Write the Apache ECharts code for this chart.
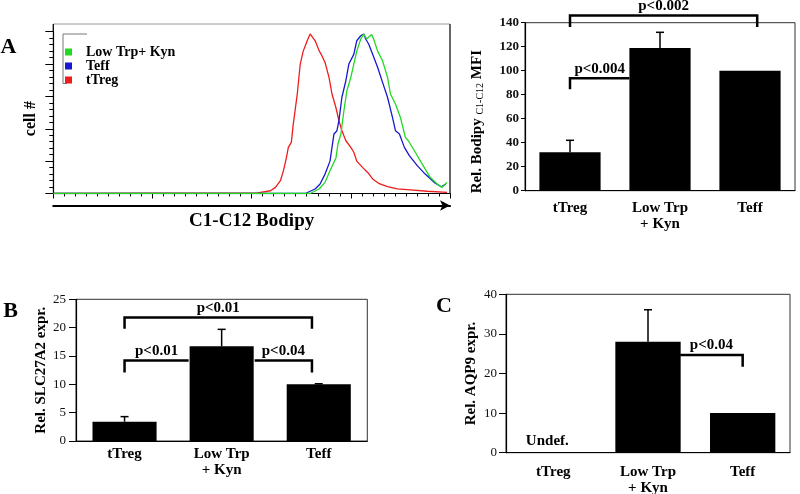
<!DOCTYPE html>
<html><head><meta charset="utf-8">
<script src="https://cdn.jsdelivr.net/npm/echarts@6/dist/echarts.min.js"></script>
<style>html,body{margin:0;padding:0;background:#fff}#c{width:800px;height:494px}</style>
</head><body><div id="c"></div>
<script>
// ---------- Panel A (histogram): x in log decades of C1-C12 Bodipy, y = % of max cell count
var histNames = ['Low Trp+ Kyn', 'Teff', 'tTreg'];
var redDecade = [0, 2.06, 2.19, 2.24, 2.29, 2.32, 2.35, 2.37, 2.40, 2.42, 2.46, 2.49, 2.52, 2.56, 2.59, 2.61, 2.64, 2.68, 2.71, 2.74, 2.78, 2.81, 2.85, 2.88, 2.91, 2.95, 3.00, 3.03, 3.06, 3.12, 3.17, 3.22, 3.28, 3.37, 3.47, 3.60, 3.77, 3.97];
var redCount = [0, 0.4, 1.7, 3.8, 7.9, 14, 22, 28.5, 31.6, 43, 61.5, 80, 88, 94.4, 98.6, 98, 94.4, 88.3, 85, 81, 71.8, 61.5, 53, 45, 38.8, 32.6, 28.5, 25.5, 20, 16, 13, 9, 6.3, 4.2, 2.8, 2.2, 1.4, 0.7];
var blueDecade = [0, 2.54, 2.64, 2.69, 2.74, 2.79, 2.83, 2.86, 2.88, 2.91, 2.95, 2.98, 3.03, 3.06, 3.10, 3.13, 3.15, 3.18, 3.22, 3.27, 3.32, 3.37, 3.42, 3.45, 3.49, 3.54, 3.59, 3.67, 3.75, 3.84, 3.91, 3.96];
var blueCount = [0, 0, 2.8, 5.9, 12, 20, 36.8, 38.8, 45, 59.5, 69.7, 80, 86, 94.4, 97.5, 98.6, 95.5, 92.4, 86, 78, 68.7, 59.5, 47, 38.8, 36.8, 28.5, 23.4, 17.2, 12, 6.9, 4.2, 5.9];
var greenDecade = [0, 2.59, 2.68, 2.74, 2.79, 2.85, 2.87, 2.90, 2.93, 2.96, 3.00, 3.03, 3.06, 3.10, 3.13, 3.16, 3.18, 3.21, 3.23, 3.27, 3.32, 3.37, 3.40, 3.45, 3.50, 3.55, 3.58, 3.60, 3.65, 3.72, 3.80, 3.87, 3.92, 3.97];
var greenCount = [0, 0, 2.8, 6.9, 14, 22, 30.6, 36.8, 51, 63.5, 71.8, 80, 88, 95.5, 98.6, 95.5, 96.5, 98.2, 95.5, 88, 82, 71.8, 61.5, 55.3, 47, 34.7, 32.6, 31.6, 25.5, 18.2, 10, 5.9, 3.8, 6.9];

// ---------- Bar panels
var categories = ['tTreg', 'Low Trp\n+ Kyn', 'Teff'];
var bodipyMean = [32, 119, 100];
var bodipyErr = [10, 13, 0];
var slcMean = [3.4, 16.7, 10.0];
var slcErr = [0.9, 3.0, 0.1];
var aqpMean = [null, 28, 10];
var aqpErr = [null, 8.1, 0];

// significance brackets (value units; edge -1/+1 = left/right edge of a bar)
var bodipyBrackets = [
  {from: 0, to: 2.08, level: 146, dropFrom: 136.5, dropTo: 136.5, text: 'p<0.002'},
  {from: 0, to: 1, toEdge: -1, level: 93.7, dropFrom: 84.5, text: 'p<0.004'}
];
var slcBrackets = [
  {from: 0, to: 1.93, level: 21.8, dropFrom: 19.8, dropTo: 19.8, text: 'p<0.01'},
  {from: 0, to: 1, toEdge: -1, level: 14.2, dropFrom: 12.1, text: 'p<0.01'},
  {from: 1, fromEdge: 1, to: 1.93, level: 14.2, dropTo: 12.1, text: 'p<0.04'}
];
var aqpBrackets = [
  {from: 1, fromEdge: 1, to: 2.0, level: 24.7, dropTo: 21.7, text: 'p<0.04'}
];
var undefText = 'Undef.';

var FONT = "'Liberation Serif','Times New Roman',serif";
var BAR_HALF = 0.34;

function pairs(xs, ys) { return xs.map(function (x, i) { return [x, ys[i]]; }); }

function errorSeries(xi, yi, means, errs) {
  return {
    type: 'custom', xAxisIndex: xi, yAxisIndex: yi, clip: false, z: 5, silent: true,
    data: means.map(function (m, i) { return [i, m == null ? 0 : m, errs[i] == null ? 0 : errs[i]]; }),
    encode: {x: 0, y: 1},
    renderItem: function (params, api) {
      var m = api.value(1), e = api.value(2);
      if (!e) return null;
      var p0 = api.coord([api.value(0), m]), p1 = api.coord([api.value(0), m + e]);
      return {type: 'group', children: [
        {type: 'line', shape: {x1: p0[0], y1: p0[1], x2: p1[0], y2: p1[1]}, style: {stroke: '#000', lineWidth: 1.5}},
        {type: 'line', shape: {x1: p1[0] - 4, y1: p1[1], x2: p1[0] + 4, y2: p1[1]}, style: {stroke: '#000', lineWidth: 1.5}}
      ]};
    }
  };
}

function bracketSeries(xi, yi, list) {
  return {
    type: 'custom', xAxisIndex: xi, yAxisIndex: yi, clip: false, z: 6, silent: true,
    data: list.map(function (b) { return [Math.round(b.from), b.level]; }),
    encode: {x: 0, y: 1},
    renderItem: function (params, api) {
      var b = list[params.dataIndex];
      var bw = api.size([1, 0])[0];
      function X(v, edge) {
        var i = Math.round(v);
        return api.coord([i, b.level])[0] + (v - i) * bw + (edge || 0) * bw * BAR_HALF;
      }
      var y = api.coord([0, b.level])[1];
      var x1 = X(b.from, b.fromEdge), x2 = X(b.to, b.toEdge);
      var pts = [];
      if (b.dropFrom != null) pts.push([x1, api.coord([0, b.dropFrom])[1]]);
      pts.push([x1, y]); pts.push([x2, y]);
      if (b.dropTo != null) pts.push([x2, api.coord([0, b.dropTo])[1]]);
      return {type: 'group', children: [
        {type: 'polyline', shape: {points: pts}, style: {stroke: '#000', lineWidth: 2.5, fill: null}},
        {type: 'text', style: {text: b.text, x: (x1 + x2) / 2, y: y - 2, align: 'center', verticalAlign: 'bottom',
          fontFamily: FONT, fontWeight: 'bold', fontSize: 15, fill: '#000'}}
      ]};
    }
  };
}

function undefSeries(xi, yi, means) {
  var idx = [];
  means.forEach(function (m, i) { if (m == null) idx.push([i, 0]); });
  return {
    type: 'custom', xAxisIndex: xi, yAxisIndex: yi, clip: false, z: 6, silent: true,
    data: idx, encode: {x: 0, y: 1},
    renderItem: function (params, api) {
      var p = api.coord([api.value(0), 0]);
      return {type: 'text', style: {text: undefText, x: p[0] - 6, y: p[1] - 12, align: 'center', verticalAlign: 'middle',
        fontFamily: FONT, fontWeight: 'bold', fontSize: 15, fill: '#000'}};
    }
  };
}

function catAxis(gi, margin) {
  return {
    gridIndex: gi, type: 'category', data: categories,
    axisLine: {show: true, lineStyle: {color: '#000', width: 1.2}},
    axisTick: {show: false}, splitLine: {show: false},
    axisLabel: {show: true, color: '#000', fontFamily: FONT, fontWeight: 'bold', fontSize: 15, lineHeight: 16, margin: margin, interval: 0}
  };
}

function valAxis(gi, max, interval, bold, tickLen, margin, name, nameGap, pad, nameRich) {
  var a = {
    gridIndex: gi, type: 'value', min: 0, max: max, interval: interval,
    axisLine: {show: true, lineStyle: {color: '#000', width: 1.2}},
    axisTick: {show: true, length: tickLen, inside: false, lineStyle: {color: '#000'}},
    splitLine: {show: false},
    axisLabel: {show: true, color: '#111', fontFamily: FONT, fontWeight: bold ? 'bold' : 'normal', fontSize: 13, margin: margin},
    name: name, nameLocation: 'middle', nameRotate: 90, nameGap: nameGap,
    nameTextStyle: {color: '#000', fontFamily: FONT, fontWeight: 'bold', fontSize: 15, padding: pad}
  };
  if (nameRich) a.nameTextStyle.rich = nameRich;
  return a;
}

var lineCommon = {type: 'line', xAxisIndex: 0, yAxisIndex: 0, showSymbol: false, symbol: 'none', smooth: false, silent: true};

var option = {
  animation: false,
  backgroundColor: '#fff',
  grid: [
    {left: 53.3, top: 31.7, width: 396.7, height: 161.8, show: false, outerBoundsMode: 'none'},
    {left: 525, top: 22.7, width: 270, height: 168, show: true, borderColor: '#333', borderWidth: 1, outerBoundsMode: 'none'},
    {left: 76, top: 299.3, width: 291.3, height: 141.7, show: true, borderColor: '#333', borderWidth: 1, outerBoundsMode: 'none'},
    {left: 506, top: 294.3, width: 284, height: 158.4, show: true, borderColor: '#333', borderWidth: 1, outerBoundsMode: 'none'}
  ],
  legend: {
    data: histNames, orient: 'vertical', left: 65, top: 45, padding: 0,
    itemWidth: 7, itemHeight: 7, itemGap: 0, icon: 'rect',
    textStyle: {color: '#000', fontFamily: FONT, fontWeight: 'bold', fontSize: 14, lineHeight: 14, padding: [0, 0, 0, 9]},
    selectedMode: false
  },
  xAxis: [
    {gridIndex: 0, type: 'value', min: 0, max: 4, interval: 1,
      axisLine: {show: true, lineStyle: {color: '#000', width: 1}},
      axisTick: {show: true, length: 5, lineStyle: {color: '#000'}},
      minorTick: {show: true, splitNumber: 9, length: 3, lineStyle: {color: '#000'}},
      axisLabel: {show: false}, splitLine: {show: false}},
    {gridIndex: 0, type: 'value', min: 0, max: 4, offset: 12, position: 'bottom',
      axisLine: {show: true, symbol: ['none', 'arrow'], symbolSize: [8, 10], lineStyle: {color: '#000', width: 2.2}},
      axisTick: {show: false}, axisLabel: {show: false}, splitLine: {show: false},
      name: 'C1-C12 Bodipy', nameLocation: 'middle', nameGap: 6,
      nameTextStyle: {color: '#000', fontFamily: FONT, fontWeight: 'bold', fontSize: 19, verticalAlign: 'top'}},
    catAxis(1, 9),
    catAxis(2, 5),
    catAxis(3, 11)
  ],
  yAxis: [
    {gridIndex: 0, type: 'value', min: 0, max: 100, interval: 20,
      axisLine: {show: true, lineStyle: {color: '#000', width: 1.2}},
      axisTick: {show: true, length: 8, lineStyle: {color: '#000'}},
      minorTick: {show: true, splitNumber: 5, length: 4, lineStyle: {color: '#000'}},
      axisLabel: {show: false}, splitLine: {show: false},
      name: 'cell #', nameLocation: 'middle', nameRotate: 90, nameGap: 14,
      nameTextStyle: {color: '#000', fontFamily: FONT, fontWeight: 'bold', fontSize: 16, padding: [0, 12, 0, 0]}},
    valAxis(1, 140, 20, true, 4, 6, 'Rel. Bodipy {sub|C1-C12} MFI', 40, [0, 30, 0, 0],
      {sub: {fontFamily: FONT, fontWeight: 'normal', fontSize: 10, color: '#000', padding: [6, 0, 0, 0]}}),
    valAxis(2, 25, 5, false, 7, 10, 'Rel. SLC27A2 expr.', 26, [12, 0, 0, 0]),
    valAxis(3, 40, 10, false, 7, 9, 'Rel. AQP9 expr.', 27, [0, 0, 0, 0])
  ],
  series: [
    Object.assign({}, lineCommon, {name: 'tTreg', data: pairs(redDecade, redCount), lineStyle: {color: '#ee1c1c', width: 1.3}, itemStyle: {color: '#ee1c1c'}}),
    Object.assign({}, lineCommon, {name: 'Teff', data: pairs(blueDecade, blueCount), lineStyle: {color: '#1818d0', width: 1.3}, itemStyle: {color: '#1818d0'}}),
    Object.assign({}, lineCommon, {name: 'Low Trp+ Kyn', data: pairs(greenDecade, greenCount), lineStyle: {color: '#22d822', width: 1.3}, itemStyle: {color: '#22d822'}}),

    {type: 'bar', name: 'bodipy', xAxisIndex: 2, yAxisIndex: 1, data: bodipyMean, barWidth: '68%', itemStyle: {color: '#000'}, silent: true},
    errorSeries(2, 1, bodipyMean, bodipyErr),
    bracketSeries(2, 1, bodipyBrackets),

    {type: 'bar', name: 'slc', xAxisIndex: 3, yAxisIndex: 2, data: slcMean, barWidth: '66%', itemStyle: {color: '#000'}, silent: true},
    errorSeries(3, 2, slcMean, slcErr),
    bracketSeries(3, 2, slcBrackets),

    {type: 'bar', name: 'aqp', xAxisIndex: 4, yAxisIndex: 3, data: aqpMean, barWidth: '69%', itemStyle: {color: '#000'}, silent: true},
    errorSeries(4, 3, aqpMean, aqpErr),
    bracketSeries(4, 3, aqpBrackets),
    undefSeries(4, 3, aqpMean)
  ],
  graphic: [
    {type: 'rect', shape: {x: 53.3, y: 24, width: 396.7, height: 169.5}, style: {fill: null, stroke: '#9a9a9a', lineWidth: 1}, z: 0, silent: true},
    {type: 'line', shape: {x1: 450, y1: 24, x2: 450, y2: 193.5}, style: {stroke: '#222', lineWidth: 1.2}, silent: true},
    {type: 'line', shape: {x1: 53.3, y1: 24, x2: 53.3, y2: 32}, style: {stroke: '#000', lineWidth: 1.2}, silent: true},
    {type: 'polyline', shape: {points: [[87, 34], [63, 34], [63, 83.5], [67, 83.5]]}, style: {stroke: '#777', lineWidth: 1, fill: null}, silent: true},
    {type: 'text', style: {text: 'A', x: 8.5, y: 47, align: 'center', verticalAlign: 'middle', fontFamily: FONT, fontWeight: 'bold', fontSize: 22, fill: '#000'}},
    {type: 'text', style: {text: 'B', x: 10.5, y: 311, align: 'center', verticalAlign: 'middle', fontFamily: FONT, fontWeight: 'bold', fontSize: 22, fill: '#000'}},
    {type: 'text', style: {text: 'C', x: 444, y: 306.5, align: 'center', verticalAlign: 'middle', fontFamily: FONT, fontWeight: 'bold', fontSize: 22, fill: '#000'}}
  ]
};

var chart = echarts.init(document.getElementById('c'), null, {renderer: 'canvas'});
chart.setOption(option);
</script>
</body></html>
